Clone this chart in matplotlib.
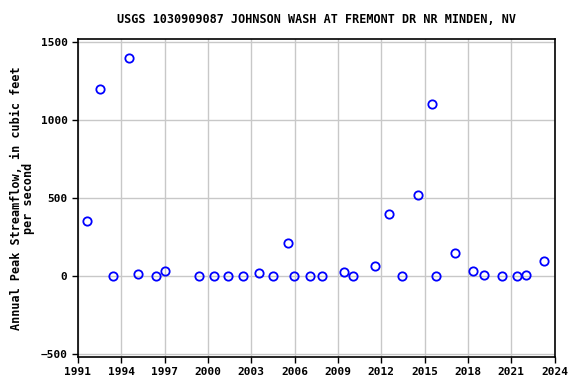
import matplotlib
matplotlib.use("Agg")
import matplotlib.pyplot as plt

# Peak streamflow
years = [1991.63, 1992.53, 1993.43, 1994.54, 1995.16, 1996.41, 1997.03,
         1999.39, 2000.43, 2001.39, 2002.46, 2003.54, 2004.47, 2005.55,
         2005.97, 2007.07, 2007.93, 2009.41, 2010.05, 2011.57, 2012.54,
         2013.45, 2014.55, 2015.52, 2015.80, 2017.09, 2018.36, 2019.12,
         2020.37, 2021.41, 2021.99, 2023.28]
peaks = [354, 1196, 0, 1394, 13, 0, 32,
         0, 0, 0, 0, 19, 0, 211,
         0, 0, 0, 26, 0, 64, 396,
         0, 518, 1100, 0, 147, 34, 6,
         0, 0, 6, 98]

x_ticks = list(range(1991, 2025, 3))
y_ticks = [-500, 0, 500, 1000, 1500]

title = "USGS 1030909087 JOHNSON WASH AT FREMONT DR NR MINDEN, NV"
ylabel = "Annual Peak Streamflow, in cubic feet\nper second"

plt.rcParams['font.family'] = ['DejaVu Sans Mono']
plt.rcParams['font.weight'] = 'bold'

fig = plt.figure(figsize=(5.76, 3.84), dpi=100)
ax = fig.add_axes([0.1354, 0.0711, 0.8274, 0.8266])

ax.plot(years, peaks, linestyle='none', marker='o', markersize=6,
        markerfacecolor='none', markeredgecolor='blue', markeredgewidth=1.3)

ax.set_xlim(1991, 2024)
ax.set_ylim(-515, 1515)
ax.set_xticks(x_ticks)
ax.set_yticks(y_ticks)
ax.grid(True, color='#c8c8c8', linewidth=1)
ax.set_axisbelow(True)
ax.tick_params(labelsize=8, length=4, width=1)
for s in ax.spines.values():
    s.set_linewidth(1.2)

ax.set_title(title, fontsize=8.5, fontweight='bold', pad=12)
ax.set_ylabel(ylabel, fontsize=8.5, fontweight='bold', linespacing=0.9)

fig.savefig("out.png", dpi=100)
